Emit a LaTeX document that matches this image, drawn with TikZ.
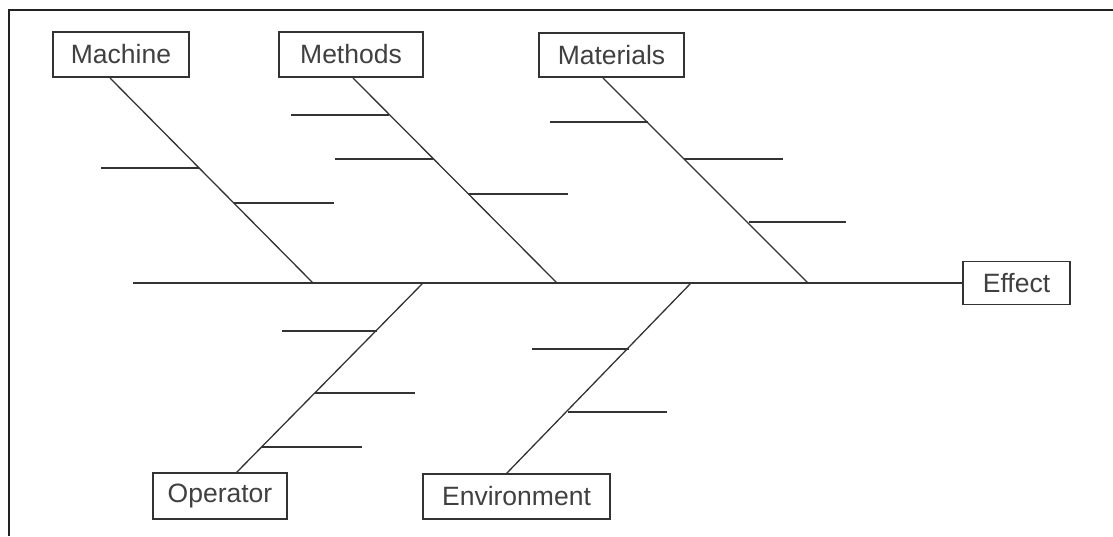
\documentclass[tikz,border=0pt]{standalone}
\usepackage{fontspec}
\setmainfont{Liberation Sans}
\definecolor{linec}{HTML}{333333}
\definecolor{textc}{HTML}{404040}
\definecolor{framec}{HTML}{222222}
\tikzset{
  catbox/.style={draw=linec, line width=1.3pt, fill=white, inner sep=0pt,
    minimum height=45pt, text=textc, font=\fontsize{26.5}{30}\selectfont},
  bone/.style={draw=linec, line width=1.3pt},
  rib/.style={draw=linec, line width=1.4pt},
  frameline/.style={draw=framec, line width=2pt}
}
\begin{document}
\begin{tikzpicture}[x=1pt,y=-1pt]
\useasboundingbox (0,0) rectangle (1113,536);
% frame
\coordinate (fTR) at (1113,10);
\coordinate (fTL) at (9,10);
\coordinate (fBL) at (9,536);
\draw[frameline] (fTR) -- (fTL) -- (fBL);

% boxes
\node[catbox, minimum width=136pt] (machine) at (121,54.5) {Machine};
\node[catbox, minimum width=144pt] (methods) at (351,54.5) {Methods};
\node[catbox, minimum width=145pt, minimum height=44pt] (materials) at (611.5,55) {Materials};
\node[catbox, minimum width=107pt, minimum height=43pt] (effect) at (1016.5,283) {Effect};
\node[catbox, minimum width=134pt, minimum height=46pt] (operator) at (220,496) {Operator};
\node[catbox, minimum width=187pt] (environment) at (516.5,496.5) {Environment};

% spine
\coordinate (spine) at (133,283);
\draw[bone] (spine) -- (effect.west);

% bone end points
\coordinate (mT) at (110,78);   \coordinate (mB) at (313,283);
\coordinate (meT) at (353,78);  \coordinate (meB) at (557,283);
\coordinate (maT) at (603,78);  \coordinate (maB) at (808,283);
\coordinate (oT) at (423,283);  \coordinate (oB) at (236,473);
\coordinate (eT) at (691,283);  \coordinate (eB) at (506,474);

\draw[bone] (mT) -- (mB);
\draw[bone] (meT) -- (meB);
\draw[bone] (maT) -- (maB);
\draw[bone] (oT) -- (oB);
\draw[bone] (eT) -- (eB);

% ribs: Machine
\coordinate (m1a) at (101,168); \coordinate (m1b) at (199,168);
\coordinate (m2a) at (234,203); \coordinate (m2b) at (334,203);
\draw[rib] (m1a) -- (m1b);
\draw[rib] (m2a) -- (m2b);
% ribs: Methods
\coordinate (me1a) at (291,115); \coordinate (me1b) at (389,115);
\coordinate (me2a) at (335,159); \coordinate (me2b) at (433,159);
\coordinate (me3a) at (468,194); \coordinate (me3b) at (568,194);
\draw[rib] (me1a) -- (me1b);
\draw[rib] (me2a) -- (me2b);
\draw[rib] (me3a) -- (me3b);
% ribs: Materials
\coordinate (ma1a) at (550,122); \coordinate (ma1b) at (648,122);
\coordinate (ma2a) at (684,159); \coordinate (ma2b) at (783,159);
\coordinate (ma3a) at (749,222); \coordinate (ma3b) at (846,222);
\draw[rib] (ma1a) -- (ma1b);
\draw[rib] (ma2a) -- (ma2b);
\draw[rib] (ma3a) -- (ma3b);
% ribs: Operator
\coordinate (o1a) at (282,331); \coordinate (o1b) at (377,331);
\coordinate (o2a) at (315,393); \coordinate (o2b) at (415,393);
\coordinate (o3a) at (262,447); \coordinate (o3b) at (362,447);
\draw[rib] (o1a) -- (o1b);
\draw[rib] (o2a) -- (o2b);
\draw[rib] (o3a) -- (o3b);
% ribs: Environment
\coordinate (e1a) at (532,349); \coordinate (e1b) at (629,349);
\coordinate (e2a) at (568,412); \coordinate (e2b) at (667,412);
\draw[rib] (e1a) -- (e1b);
\draw[rib] (e2a) -- (e2b);
\end{tikzpicture}
\end{document}
